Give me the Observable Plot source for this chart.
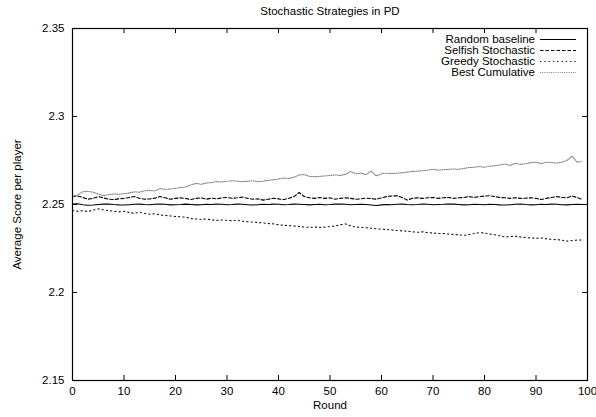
<!DOCTYPE html>
<html>
<head>
<meta charset="utf-8">
<script src="https://cdn.jsdelivr.net/npm/d3@7"></script>
<script src="https://cdn.jsdelivr.net/npm/@observablehq/plot@0.6"></script>
<style>
  html, body { margin: 0; padding: 0; background: #fff; overflow: hidden; }
  #chart svg { display: block; }
</style>
</head>
<body>
<div id="chart"></div>
<script>
const title = "Stochastic Strategies in PD";
const xLabel = "Round";
const yLabel = "Average Score per player";
const seriesNames = ["Random baseline", "Selfish Stochastic", "Greedy Stochastic", "Best Cumulative"];
const xTicks = [0, 10, 20, 30, 40, 50, 60, 70, 80, 90, 100];
const yTicks = [2.15, 2.2, 2.25, 2.3, 2.35];

const randomBaseline = [
2.2502,2.2504,2.2499,2.2496,2.2497,2.2500,2.2502,2.2503,2.2500,2.2498,
2.2497,2.2499,2.2501,2.2502,2.2500,2.2499,2.2501,2.2503,2.2501,2.2498,
2.2499,2.2500,2.2502,2.2500,2.2498,2.2499,2.2501,2.2500,2.2502,2.2501,
2.2499,2.2500,2.2502,2.2501,2.2499,2.2497,2.2499,2.2501,2.2500,2.2502,
2.2501,2.2499,2.2500,2.2502,2.2501,2.2500,2.2498,2.2500,2.2501,2.2499,
2.2500,2.2502,2.2503,2.2501,2.2499,2.2500,2.2501,2.2500,2.2497,2.2494,
2.2498,2.2500,2.2499,2.2501,2.2502,2.2500,2.2499,2.2500,2.2503,2.2501,
2.2499,2.2500,2.2501,2.2503,2.2502,2.2500,2.2498,2.2499,2.2501,2.2500,
2.2499,2.2501,2.2500,2.2498,2.2497,2.2499,2.2501,2.2503,2.2500,2.2498,
2.2499,2.2501,2.2500,2.2502,2.2501,2.2499,2.2498,2.2500,2.2501,2.2500];

const selfishStochastic = [
2.2545,2.2548,2.2540,2.2530,2.2535,2.2545,2.2538,2.2530,2.2528,2.2532,
2.2535,2.2540,2.2545,2.2535,2.2530,2.2532,2.2536,2.2545,2.2538,2.2530,
2.2535,2.2538,2.2534,2.2528,2.2535,2.2538,2.2530,2.2536,2.2532,2.2538,
2.2540,2.2535,2.2538,2.2542,2.2535,2.2530,2.2532,2.2525,2.2530,2.2535,
2.2532,2.2528,2.2535,2.2545,2.2568,2.2545,2.2538,2.2535,2.2540,2.2535,
2.2538,2.2530,2.2535,2.2538,2.2535,2.2530,2.2532,2.2536,2.2534,2.2530,
2.2538,2.2545,2.2548,2.2550,2.2540,2.2525,2.2535,2.2538,2.2535,2.2538,
2.2540,2.2535,2.2538,2.2540,2.2535,2.2538,2.2540,2.2545,2.2540,2.2545,
2.2548,2.2550,2.2545,2.2540,2.2538,2.2535,2.2538,2.2535,2.2536,2.2538,
2.2535,2.2528,2.2535,2.2540,2.2545,2.2540,2.2538,2.2548,2.2540,2.2528];

const greedyStochastic = [
2.2465,2.2462,2.2465,2.2460,2.2468,2.2475,2.2470,2.2465,2.2462,2.2458,
2.2462,2.2455,2.2450,2.2455,2.2450,2.2445,2.2448,2.2440,2.2438,2.2435,
2.2432,2.2430,2.2428,2.2420,2.2418,2.2415,2.2418,2.2412,2.2410,2.2412,
2.2410,2.2408,2.2410,2.2405,2.2402,2.2400,2.2398,2.2395,2.2392,2.2390,
2.2385,2.2382,2.2380,2.2378,2.2375,2.2372,2.2370,2.2372,2.2370,2.2372,
2.2375,2.2378,2.2385,2.2390,2.2378,2.2372,2.2370,2.2368,2.2365,2.2362,
2.2360,2.2358,2.2355,2.2352,2.2350,2.2348,2.2345,2.2342,2.2345,2.2340,
2.2338,2.2335,2.2335,2.2332,2.2330,2.2328,2.2325,2.2330,2.2335,2.2340,
2.2338,2.2332,2.2328,2.2322,2.2315,2.2318,2.2320,2.2315,2.2312,2.2310,
2.2308,2.2310,2.2305,2.2302,2.2300,2.2298,2.2292,2.2295,2.2298,2.2298];

const bestCumulative = [
2.2545,2.2555,2.2572,2.2575,2.2570,2.2560,2.2550,2.2556,2.2560,2.2558,
2.2562,2.2565,2.2572,2.2570,2.2578,2.2580,2.2577,2.2590,2.2586,2.2588,
2.2592,2.2596,2.2600,2.2612,2.2620,2.2615,2.2622,2.2625,2.2630,2.2628,
2.2632,2.2635,2.2633,2.2630,2.2632,2.2635,2.2630,2.2632,2.2638,2.2640,
2.2645,2.2650,2.2648,2.2655,2.2668,2.2670,2.2660,2.2658,2.2660,2.2662,
2.2665,2.2668,2.2665,2.2672,2.2688,2.2675,2.2678,2.2670,2.2690,2.2662,
2.2675,2.2678,2.2676,2.2678,2.2680,2.2684,2.2688,2.2690,2.2692,2.2695,
2.2700,2.2695,2.2698,2.2700,2.2702,2.2700,2.2705,2.2710,2.2712,2.2715,
2.2712,2.2718,2.2720,2.2725,2.2730,2.2722,2.2735,2.2728,2.2732,2.2738,
2.2740,2.2732,2.2740,2.2738,2.2735,2.2740,2.2750,2.2775,2.2740,2.2745];

const seriesValues = [randomBaseline, selfishStochastic, greedyStochastic, bestCumulative];
const seriesStyles = [
  {stroke: "#000", strokeWidth: 1.1, strokeDasharray: null},
  {stroke: "#000", strokeWidth: 1.1, strokeDasharray: "3.5,2"},
  {stroke: "#111", strokeWidth: 1.1, strokeDasharray: "1.3,3"},
  {stroke: "#808080", strokeWidth: 1.1, strokeDasharray: "1,1.2"}
];

const W = 596, H = 417;
const mL = 72, mR = 9, mT = 28, mB = 37;
const innerW = W - mL - mR, innerH = H - mT - mB;
const tick = 5;
const font = "'Liberation Sans', Arial, Helvetica, sans-serif";

const data = seriesNames.map((name, s) =>
  seriesValues[s].map((v, i) => ({series: name, round: i, value: v})));

function legend(index, scales, values, dims) {
  const g = d3.create("svg:g").attr("font-family", font).attr("font-size", 11.5);
  const xRight = dims.width - dims.marginRight;
  seriesNames.forEach((name, i) => {
    const y = dims.marginTop + 11 + i * 11;
    g.append("text").attr("x", xRight - 52).attr("y", y).attr("dy", "0.35em")
      .attr("text-anchor", "end").attr("fill", "#000").text(name);
    const st = seriesStyles[i];
    g.append("line").attr("x1", xRight - 47).attr("x2", xRight - 11)
      .attr("y1", y + 0.5).attr("y2", y + 0.5)
      .attr("stroke", st.stroke).attr("stroke-width", st.strokeWidth)
      .attr("stroke-dasharray", st.strokeDasharray);
  });
  return g.node();
}

const chart = Plot.plot({
  width: W, height: H,
  marginLeft: mL, marginRight: mR, marginTop: mT, marginBottom: mB,
  style: {fontFamily: font, fontSize: "11.5px", color: "#000", background: "#fff", overflow: "visible"},
  x: {domain: [0, 100]},
  y: {domain: [2.15, 2.35]},
  marks: [
    ...data.map((d, s) => Plot.line(d, {x: "round", y: "value", ...seriesStyles[s]})),
    Plot.tickX(xTicks, {x: d => d, insetTop: innerH - tick, stroke: "#000"}),
    Plot.tickX(xTicks, {x: d => d, insetBottom: innerH - tick, stroke: "#000"}),
    Plot.tickY(yTicks, {y: d => d, insetRight: innerW - tick, stroke: "#000"}),
    Plot.tickY(yTicks, {y: d => d, insetLeft: innerW - tick, stroke: "#000"}),
    Plot.frame({stroke: "#000", strokeWidth: 1.2}),
    Plot.axisX({ticks: xTicks, tickSize: 0, tickPadding: 6, label: null, tickFormat: d => String(d)}),
    Plot.axisY({ticks: yTicks, tickSize: 0, tickPadding: 8, label: null, tickFormat: d => String(+d.toFixed(2))}),
    Plot.text([title], {frameAnchor: "top", dy: -14, lineAnchor: "bottom", text: d => d, fill: "#000"}),
    Plot.text([xLabel], {frameAnchor: "bottom", dy: 28, lineAnchor: "bottom", text: d => d, fill: "#000"}),
    Plot.text([yLabel], {frameAnchor: "left", dx: -55, rotate: -90, textAnchor: "middle", lineAnchor: "middle", text: d => d, fill: "#000"}),
    legend
  ]
});
document.getElementById("chart").appendChild(chart);
</script>
</body>
</html>
